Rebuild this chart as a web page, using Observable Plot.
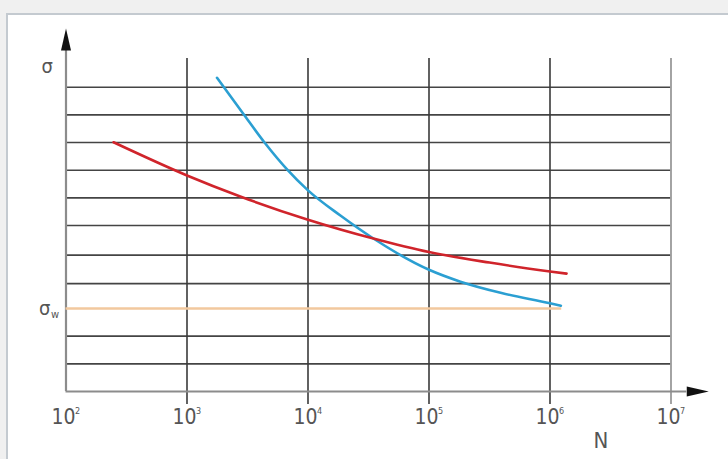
<!DOCTYPE html>
<html>
<head>
<meta charset="utf-8">
<script src="https://cdn.jsdelivr.net/npm/d3@7"></script>
<script src="https://cdn.jsdelivr.net/npm/@observablehq/plot@0.6"></script>
<style>
  html, body { margin: 0; padding: 0; width: 728px; height: 459px; overflow: hidden; background: #f0f0f0; }
  #frame { position: absolute; left: 6px; top: 13px; width: 740px; height: 470px; background: #fff;
           border-left: 2.5px solid #c4cad0; border-top: 2.5px solid #c4cad0; box-sizing: border-box; }
  #chart { position: absolute; left: 0; top: 0; }
</style>
</head>
<body>
<div id="frame"></div>
<div id="chart"></div>
<script>
// --- data ---
const decades = [1e3, 1e4, 1e5, 1e6];           // dark vertical grid lines
const lastDecade = [1e7];                         // light right-hand line
const tickValues = [1e2, 1e3, 1e4, 1e5, 1e6, 1e7];
const tickExponents = ["2", "3", "4", "5", "6", "7"];
const gridLevels = [1, 2, 3.9, 4.93, 6, 7, 8, 9, 10, 11];
const sigmaW = 3;
const sigmaWEnd = 1.25e6;

const redN = [247, 1000, 2754, 10000, 34700, 100000, 316000, 1000000, 1370000];
const redS = [9.01, 7.81, 7.05, 6.21, 5.53, 5.04, 4.66, 4.34, 4.26];

const blueN = [1770, 2917, 4355, 6710, 10000, 18530, 34700, 100000, 182000, 398000, 1000000, 1230000];
const blueS = [11.34, 10.04, 9.01, 8.03, 7.27, 6.36, 5.53, 4.40, 3.97, 3.56, 3.19, 3.10];

// axis extents (data units)
const xMin = 100, xMax = 1e7, xArrowBase = 1.35e7;
const yMin = 0, yMax = 11, yArrowBase = 12.33;
const gridTop = 12.04, gridBottom = -0.47;
const tickLabelY = -0.94, nLabel = {x: 2.63e6, y: -1.77}, sigmaLabelY = 11.75;

const red = redN.map((n, i) => ({n, s: redS[i]}));
const blue = blueN.map((n, i) => ({n, s: blueS[i]}));
const ticks = tickValues.map((v, i) => ({v, e: tickExponents[i]}));

const arrowUp = { draw(ctx) { ctx.moveTo(0, -22); ctx.lineTo(5, 0); ctx.lineTo(-5, 0); ctx.closePath(); } };
const arrowRight = { draw(ctx) { ctx.moveTo(22, 0); ctx.lineTo(0, 5); ctx.lineTo(0, -5); ctx.closePath(); } };

const font = "'Liberation Sans Narrow', 'DejaVu Sans Condensed', 'Liberation Sans', sans-serif";
const textColor = "#555";

const chart = Plot.plot({
  width: 728,
  height: 459,
  margin: 0,
  x: {type: "log", domain: [xMin, xMax], range: [65.5, 670.5], axis: null},
  y: {domain: [yMin, yMax], range: [391, 86.7], axis: null},
  style: {background: "transparent", overflow: "visible", fontFamily: font},
  marks: [
    // horizontal grid
    Plot.ruleY(gridLevels, {x1: xMin, x2: xMax, stroke: "#444", strokeWidth: 1.6, clip: false}),
    // vertical grid
    Plot.ruleX(decades, {y1: gridBottom, y2: gridTop, stroke: "#3a3a3a", strokeWidth: 1.6, clip: false}),
    Plot.ruleX(lastDecade, {y1: gridBottom, y2: gridTop, stroke: "#9a9a9a", strokeWidth: 1.8, clip: false}),
    // axes
    Plot.ruleX([xMin], {y1: yMin, y2: yArrowBase, stroke: "#8c8c8c", strokeWidth: 2.2, clip: false}),
    Plot.ruleY([yMin], {x1: xMin, x2: xArrowBase, stroke: "#8c8c8c", strokeWidth: 2.2, clip: false}),
    Plot.dot([0], {x: () => xMin, y: () => yArrowBase, symbol: arrowUp, fill: "#111", stroke: "none", clip: false}),
    Plot.dot([0], {x: () => xArrowBase, y: () => yMin, symbol: arrowRight, fill: "#111", stroke: "none", clip: false}),
    // endurance limit
    Plot.ruleY([sigmaW], {x1: xMin, x2: sigmaWEnd, stroke: "#f2c89e", strokeWidth: 2.5}),
    // curves
    Plot.line(blue, {x: "n", y: "s", stroke: "#2b9fd2", strokeWidth: 2.6, curve: "monotone-x", clip: false}),
    Plot.line(red, {x: "n", y: "s", stroke: "#d0242b", strokeWidth: 2.6, curve: "monotone-x", clip: false}),
    // tick labels
    Plot.text(ticks, {x: "v", y: () => tickLabelY, text: () => "10", dx: -2.5, fontSize: 21, fill: textColor, clip: false}),
    Plot.text(ticks, {x: "v", y: () => tickLabelY, text: "e", dx: 9, dy: -6, textAnchor: "start", fontSize: 9, fill: textColor, clip: false}),
    // axis titles
    Plot.text(["N"], {x: () => nLabel.x, y: () => nLabel.y, fontSize: 22, fill: textColor, clip: false}),
    Plot.text(["σ"], {x: () => xMin, y: () => sigmaLabelY, dx: -13, textAnchor: "end", fontSize: 20, fill: textColor, clip: false}),
    Plot.text(["σ"], {x: () => xMin, y: () => sigmaW, dx: -15.5, textAnchor: "end", fontSize: 20, fill: textColor, clip: false}),
    Plot.text(["w"], {x: () => xMin, y: () => sigmaW, dx: -15, dy: 6, textAnchor: "start", fontSize: 11, fill: textColor, clip: false})
  ]
});
document.getElementById("chart").appendChild(chart);
</script>
</body>
</html>
